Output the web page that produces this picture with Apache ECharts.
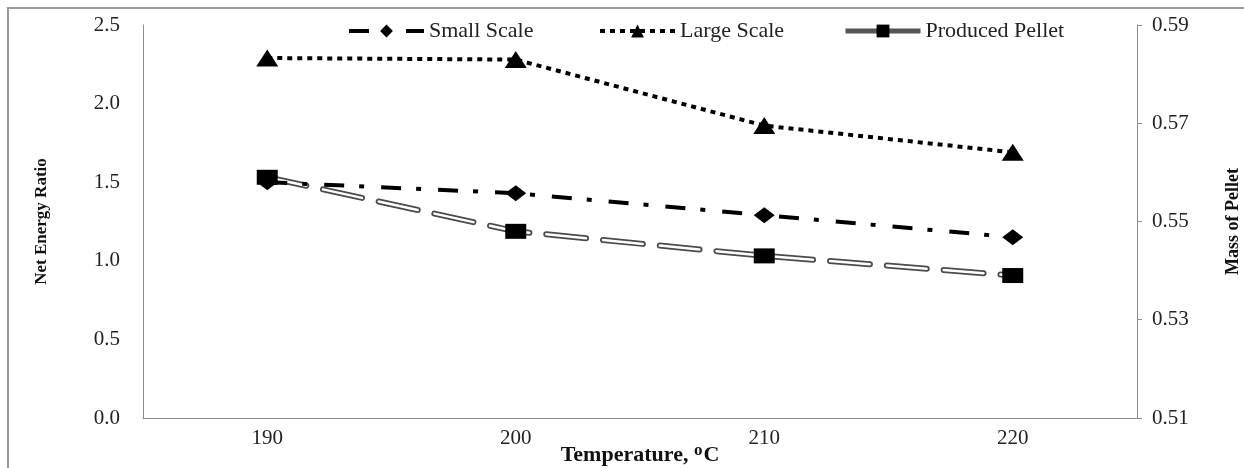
<!DOCTYPE html>
<html>
<head>
<meta charset="utf-8">
<script src="https://cdn.jsdelivr.net/npm/echarts@6/dist/echarts.min.js"></script>
<style>
  html, body { margin: 0; padding: 0; background: #fff; }
  #chart { width: 1244px; height: 468px; }
</style>
</head>
<body>
<div id="chart"></div>
<script>
// temperatures on the x axis
const temperatures = ['190', '200', '210', '220'];
// net energy ratio (left axis)
const smallScale = [1.50, 1.43, 1.29, 1.15];
const largeScale = [2.29, 2.28, 1.86, 1.69];
// mass of pellet (right axis)
const producedPellet = [0.559, 0.548, 0.543, 0.539];
const massTicks = [0.51, 0.53, 0.55, 0.57, 0.59];

const SERIF = '"Liberation Serif", "Times New Roman", serif';
const AXIS_GRAY = '#8c8c8c';
const PELLET_DASH = [40, 17];

const chart = echarts.init(document.getElementById('chart'), null, { renderer: 'canvas' });

// one legend box per item so each lands where the original put it
function legendAt(name, left, extra) {
  return {
    data: [Object.assign({ name }, extra || {})],
    left, top: 20, padding: 0,
    itemWidth: 75, itemHeight: 16, itemGap: 5,
    textStyle: { fontFamily: SERIF, fontSize: 22, color: '#222' },
    selectedMode: false,
  };
}

chart.setOption({
  animation: false,
  backgroundColor: '#fff',
  graphic: [{
    type: 'rect',
    shape: { x: 8, y: 8, width: 1300, height: 500 },
    style: { fill: 'none', stroke: '#9a9a9a', lineWidth: 2 },
    silent: true,
  }],
  legend: [
    legendAt('Small Scale', 347, {
      lineStyle: { color: '#000', width: 4, type: [20, 15, 5, 17] },
    }),
    legendAt('Large Scale', 598, {
      lineStyle: { color: '#000', width: 4, type: [5, 5] },
    }),
    legendAt('Produced Pellet', 843, {
      lineStyle: { color: '#555', width: 5, opacity: 1, type: 'solid' },
    }),
  ],
  grid: { left: 143, right: 107, top: 25, bottom: 50, outerBoundsMode: 'none' },
  xAxis: {
    type: 'category',
    data: temperatures,
    boundaryGap: true,
    axisLine: { lineStyle: { color: AXIS_GRAY, width: 1 } },
    axisTick: { show: false },
    axisLabel: { fontFamily: SERIF, fontSize: 21, color: '#222', margin: 10 },
    name: 'Temperature, {sup|o}C',
    nameLocation: 'middle',
    nameGap: 24,
    nameMoveOverlap: false,
    nameTextStyle: {
      fontFamily: SERIF, fontSize: 22, fontWeight: 'bold', color: '#111',
      rich: {
        sup: { fontFamily: SERIF, fontSize: 17, fontWeight: 'bold', color: '#111', verticalAlign: 'top', padding: [0, 1, 10, 0] },
      },
    },
  },
  yAxis: [
    {
      type: 'value',
      min: 0, max: 2.5, interval: 0.5,
      axisLine: { show: true, lineStyle: { color: AXIS_GRAY, width: 1 } },
      axisTick: { show: false },
      splitLine: { show: false },
      axisLabel: {
        fontFamily: SERIF, fontSize: 21, color: '#222', margin: 23,
        formatter: (v) => v.toFixed(1),
      },
      name: 'Net Energy Ratio',
      nameLocation: 'middle',
      nameRotate: 90,
      nameGap: 93,
      nameMoveOverlap: false,
      nameTextStyle: { fontFamily: SERIF, fontSize: 17, fontWeight: 'bold', color: '#111' },
    },
    {
      type: 'value',
      position: 'right',
      min: 0.51, max: 0.59,
      axisLine: { show: true, lineStyle: { color: AXIS_GRAY, width: 1 } },
      axisTick: { show: true, length: 5, customValues: massTicks, lineStyle: { color: AXIS_GRAY } },
      splitLine: { show: false },
      axisLabel: {
        fontFamily: SERIF, fontSize: 21, color: '#222', margin: 15,
        customValues: massTicks,
        formatter: (v) => v.toFixed(2),
      },
      name: 'Mass of Pellet',
      nameLocation: 'middle',
      nameRotate: 90,
      nameGap: 87,
      nameMoveOverlap: false,
      nameTextStyle: { fontFamily: SERIF, fontSize: 18, fontWeight: 'bold', color: '#111' },
    },
  ],
  series: [
    {
      name: 'Small Scale',
      type: 'line',
      data: smallScale,
      yAxisIndex: 0,
      z: 4,
      symbol: 'diamond',
      symbolSize: [21, 16],
      itemStyle: { color: '#000' },
      lineStyle: { color: '#000', width: 4, type: [20, 15, 5, 17] },
    },
    {
      name: 'Large Scale',
      type: 'line',
      data: largeScale,
      yAxisIndex: 0,
      z: 4,
      symbol: 'triangle',
      symbolSize: [22, 17],
      itemStyle: { color: '#000' },
      lineStyle: { color: '#000', width: 4, type: [5, 5] },
    },
    // pellet line is a hollow double stroke: dark outline, white core, then markers on top
    {
      name: 'pellet-outline',
      type: 'line',
      data: producedPellet,
      yAxisIndex: 1,
      z: 2,
      silent: true,
      showSymbol: false,
      lineStyle: { color: '#4a4a4a', width: 6, type: PELLET_DASH, cap: 'round' },
    },
    {
      name: 'pellet-core',
      type: 'line',
      data: producedPellet,
      yAxisIndex: 1,
      z: 3,
      silent: true,
      showSymbol: false,
      lineStyle: { color: '#fff', width: 2.5, type: PELLET_DASH, cap: 'round' },
    },
    {
      name: 'Produced Pellet',
      type: 'line',
      data: producedPellet,
      yAxisIndex: 1,
      z: 5,
      symbol: 'rect',
      symbolSize: [21, 15],
      itemStyle: { color: '#000' },
      lineStyle: { opacity: 0 },
    },
  ],
});
</script>
</body>
</html>
